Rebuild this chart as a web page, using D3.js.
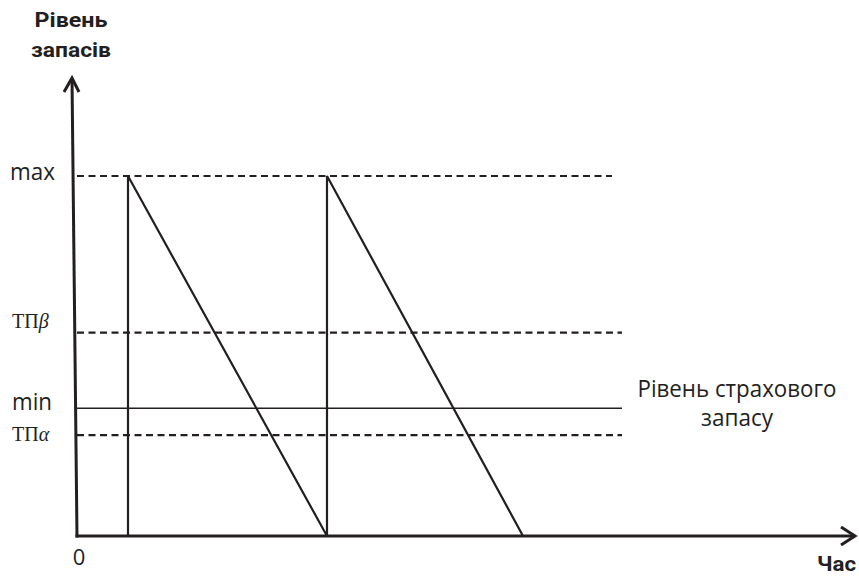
<!DOCTYPE html>
<html>
<head>
<meta charset="utf-8">
<script src="https://cdn.jsdelivr.net/npm/d3@7"></script>
<style>
  body { margin: 0; background: #fff; }
  text { font-family: "Open Sans", "Noto Sans", sans-serif; fill: #231f20; }
  .bold { font-family: Roboto, "Open Sans", sans-serif; font-weight: bold; }
  .serif { font-family: "Liberation Serif", "DejaVu Serif", serif; }
</style>
</head>
<body>
<script>
// inventory levels (relative units, 0 = empty, 100 = max)
const levelNames = ['max', 'ТПβ', 'min', 'ТПα'];
const levelValues = [100, 56.5, 35.5, 28];
const levelDashed = [true, true, false, true];
const levelEnds = [10.7, 10.9, 10.9, 10.9];

// sawtooth of stock over time
const stockTimes = [1.02, 1.02, 5, 5, 8.92];
const stockLevels = [0, 100, 0, 100, 0];

const W = 859, H = 577;
const ink = '#231f20';

function main()
{
    const svg = d3.select('body')
        .append('svg')
        .attr('width', W)
        .attr('height', H);

    const scX = d3.scaleLinear().domain([0, 15.4]).range([77, 847]);
    const scY = d3.scaleLinear().domain([0, 100]).range([536, 176]);

    // horizontal level lines
    levelValues.forEach((v, i) => {
        svg.append('line')
            .attr('x1', scX(0)).attr('x2', scX(levelEnds[i]))
            .attr('y1', scY(v)).attr('y2', scY(v))
            .attr('stroke', ink)
            .attr('stroke-width', levelDashed[i] ? 2.2 : 1.4)
            .attr('stroke-dasharray', levelDashed[i] ? '7,4.5' : null);
    });

    // level labels (baseline offsets relative to the line)
    const labelDy = [4, -5, 2, 6];
    const labelLen = [45, 40, 40, 40];
    levelNames.forEach((name, i) => {
        const t = svg.append('text')
            .attr('x', name === 'max' ? 10 : 12)
            .attr('y', scY(levelValues[i]) + labelDy[i]);
        if (name.startsWith('ТП')) {
            t.attr('class', 'serif').style('font-size', '20px');
            t.append('tspan').text('ТП');
            t.append('tspan').style('font-style', 'italic').text(name.slice(2));
        } else {
            t.style('font-size', '23px')
                .attr('textLength', labelLen[i])
                .attr('lengthAdjust', 'spacingAndGlyphs')
                .text(name);
        }
    });

    // stock sawtooth
    const pts = stockTimes.map((t, i) => [scX(t), scY(stockLevels[i])]);
    svg.append('path')
        .attr('d', d3.line()(pts))
        .attr('fill', 'none')
        .attr('stroke', ink)
        .attr('stroke-width', 2.2)
        .attr('stroke-linejoin', 'miter');

    // axes
    const x0 = scX(0), y0 = scY(0);
    const yTop = 78, xEnd = 855;
    svg.append('line')
        .attr('x1', x0 - 5).attr('y1', yTop)
        .attr('x2', x0).attr('y2', y0 + 1.5)
        .attr('stroke', ink).attr('stroke-width', 3);
    svg.append('line')
        .attr('x1', x0 - 1.5).attr('y1', y0)
        .attr('x2', xEnd).attr('y2', y0)
        .attr('stroke', ink).attr('stroke-width', 3);
    // arrow heads
    svg.append('path')
        .attr('d', `M${x0 - 13},${yTop + 14} L${x0 - 5},${yTop} L${x0 + 2},${yTop + 14}`)
        .attr('fill', 'none').attr('stroke', ink).attr('stroke-width', 3);
    svg.append('path')
        .attr('d', `M${xEnd - 14},${y0 - 9} L${xEnd},${y0} L${xEnd - 14},${y0 + 9}`)
        .attr('fill', 'none').attr('stroke', ink).attr('stroke-width', 3);

    // axis titles
    const title = (txt, x, y, len, anchor) => svg.append('text')
        .attr('class', 'bold')
        .attr('x', x).attr('y', y)
        .attr('text-anchor', anchor)
        .attr('textLength', len)
        .attr('lengthAdjust', 'spacingAndGlyphs')
        .style('font-size', '21px')
        .text(txt);
    title('Рівень', 71, 27, 73, 'middle');
    title('запасів', 71, 57, 80, 'middle');
    title('Час', 856, 571, 39, 'end');

    svg.append('text')
        .attr('x', 79).attr('y', 565)
        .attr('text-anchor', 'middle')
        .style('font-size', '22px')
        .text('0');

    // safety stock note
    const note = svg.append('text')
        .attr('text-anchor', 'middle')
        .style('font-size', '23px');
    note.append('tspan').attr('x', 737).attr('y', 397)
        .attr('textLength', 199).attr('lengthAdjust', 'spacingAndGlyphs')
        .text('Рівень страхового');
    note.append('tspan').attr('x', 737).attr('y', 426)
        .attr('textLength', 72).attr('lengthAdjust', 'spacingAndGlyphs')
        .text('запасу');
}

main();
</script>
</body>
</html>
